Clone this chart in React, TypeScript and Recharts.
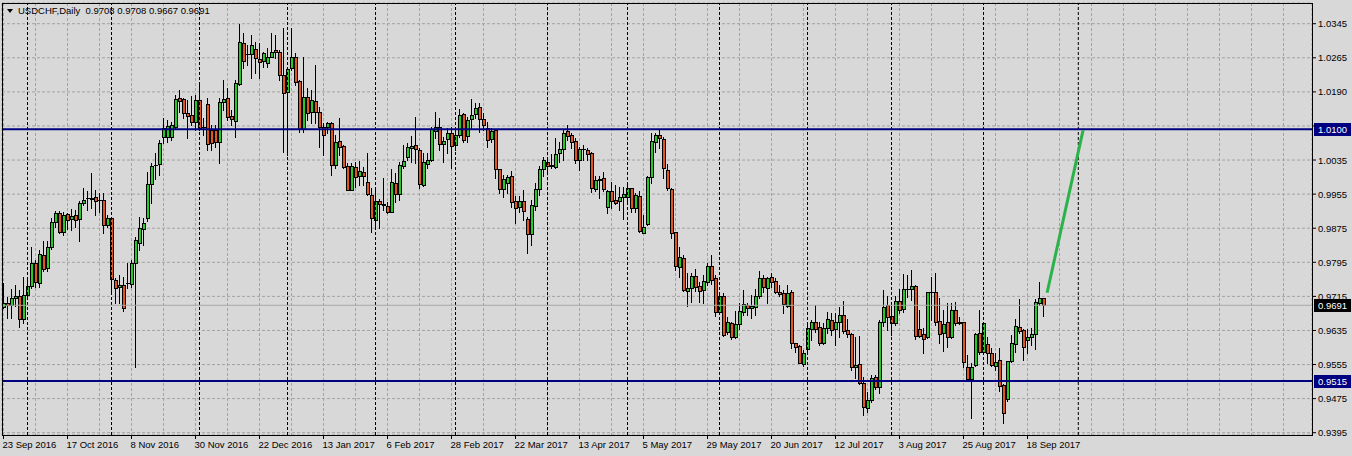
import { ComposedChart, Bar, XAxis, YAxis, CartesianGrid, ReferenceLine } from 'recharts';

// USDCHF daily, 23 Sep 2016 .. 22 Sep 2017 (bar index = trading day)
const opens = [
  0.9687, 0.9696, 0.9691, 0.9708, 0.9712, 0.9659, 0.9715, 0.9736, 0.9789, 0.9743,
  0.9808, 0.9777, 0.9826, 0.9884, 0.9905, 0.9861, 0.9903, 0.9891, 0.9901, 0.9891,
  0.9928, 0.994, 0.994, 0.9942, 0.9935, 0.9935, 0.9877, 0.9894, 0.975, 0.9733,
  0.9738, 0.9743, 0.974, 0.9789, 0.9835, 0.9868, 0.9894, 0.9973, 1.0017, 1.0019,
  1.0082, 1.0082, 1.0082, 1.0105, 1.0172, 1.017, 1.0137, 1.0133, 1.0117, 1.0168,
  1.0105, 1.0158, 1.0098, 1.0098, 1.007, 1.0163, 1.0172, 1.0131, 1.0119, 1.0205,
  1.03, 1.0275, 1.0275, 1.0286, 1.0263, 1.0258, 1.0254, 1.0268, 1.0284, 1.0279,
  1.0226, 1.0186, 1.0242, 1.0268, 1.0212, 1.01, 1.0175, 1.014, 1.0165, 1.014,
  1.0105, 1.0105, 1.0114, 1.0017, 1.0072, 1.0061, 1.0014, 0.9959, 1.0012, 0.9991,
  1.0, 0.9977, 0.9947, 0.9889, 0.9933, 0.9926, 0.9921, 0.9908, 0.9975, 0.9949,
  1.0014, 1.0035, 1.0056, 1.0063, 1.0052, 0.997, 1.0019, 1.0028, 1.0096, 1.0105,
  1.0065, 1.0077, 1.0091, 1.0063, 1.0086, 1.0135, 1.0084, 1.0124, 1.0135, 1.0151,
  1.0124, 1.0103, 1.0077, 1.0098, 1.0007, 0.9961, 0.9975, 0.9991, 0.9933, 0.9919,
  0.9933, 0.9891, 0.9856, 0.9921, 0.9961, 1.0007, 1.0024, 1.0017, 1.0012, 1.0045,
  1.0054, 1.0096, 1.0086, 1.0072, 1.0028, 1.0054, 1.0052, 1.0045, 0.9961, 0.9984,
  0.9986, 0.9919, 0.9956, 0.9935, 0.9933, 0.9942, 0.9942, 0.9963, 0.9917, 0.9945,
  0.9859, 0.988, 0.9989, 1.007, 1.0086, 1.0077, 1.0005, 0.9961, 0.9861, 0.978,
  0.9801, 0.9724, 0.9731, 0.9759, 0.9736, 0.9726, 0.9745, 0.9782, 0.9754, 0.9675,
  0.9712, 0.9629, 0.965, 0.9617, 0.9647, 0.9675, 0.9691, 0.9684, 0.9687, 0.9712,
  0.9754, 0.9731, 0.9756, 0.9747, 0.9722, 0.9719, 0.9689, 0.9722, 0.9603, 0.9596,
  0.9554, 0.9589, 0.9636, 0.9652, 0.964, 0.9603, 0.9638, 0.9657, 0.9636, 0.9652,
  0.9668, 0.9633, 0.9624, 0.9547, 0.9554, 0.951, 0.9452, 0.9471, 0.9524, 0.9501,
  0.9652, 0.9691, 0.9666, 0.965, 0.9701, 0.9682, 0.9729, 0.9729, 0.9736, 0.9636,
  0.9624, 0.9617, 0.9722, 0.9722, 0.9654, 0.9626, 0.9652, 0.9617, 0.968, 0.9652,
  0.9652, 0.9547, 0.952, 0.9552, 0.9626, 0.9582, 0.9601, 0.958, 0.955, 0.9564,
  0.9506, 0.9473, 0.9561, 0.9601, 0.964, 0.9633, 0.961, 0.9617, 0.9624, 0.9696,
  0.9708,
];

const highs = [
  0.9743, 0.971, 0.9729, 0.9738, 0.9726, 0.9756, 0.9756, 0.9826, 0.9796, 0.9819,
  0.984, 0.984, 0.9894, 0.991, 0.991, 0.9908, 0.9905, 0.9914, 0.9912, 0.9933,
  0.9963, 0.9956, 0.9998, 0.9959, 0.9952, 0.9952, 0.9901, 0.9896, 0.9754, 0.9761,
  0.9756, 0.9789, 0.9796, 0.9849, 0.9896, 0.9894, 1.0, 1.0021, 1.0045, 1.0075,
  1.0126, 1.0121, 1.0117, 1.0179, 1.0191, 1.0172, 1.0168, 1.0177, 1.0179, 1.0203,
  1.0126, 1.0172, 1.011, 1.011, 1.0172, 1.0214, 1.0196, 1.0144, 1.0214, 1.0344,
  1.0323, 1.0296, 1.0319, 1.0302, 1.03, 1.0279, 1.0289, 1.0323, 1.0319, 1.0284,
  1.0335, 1.0242, 1.0335, 1.0277, 1.0214, 1.0268, 1.0196, 1.0191, 1.0249, 1.0151,
  1.0114, 1.0117, 1.0117, 1.0086, 1.0126, 1.0063, 1.0021, 1.0021, 1.0024, 1.0026,
  1.0012, 1.0045, 0.9963, 0.9963, 0.9938, 0.9986, 0.9931, 1.0007, 0.9998, 1.0024,
  1.0063, 1.0068, 1.0084, 1.0128, 1.0056, 1.0045, 1.0045, 1.0105, 1.014, 1.0126,
  1.0082, 1.0103, 1.0105, 1.0098, 1.0147, 1.0137, 1.0128, 1.017, 1.0161, 1.0161,
  1.0137, 1.0117, 1.0103, 1.0099, 1.0008, 0.9993, 0.9993, 1.0003, 0.9945, 0.9945,
  0.9959, 0.9896, 0.9935, 0.9975, 1.0014, 1.0035, 1.0035, 1.0042, 1.0079, 1.007,
  1.0098, 1.011, 1.0091, 1.0079, 1.0058, 1.0063, 1.0056, 1.0046, 0.9991, 0.9991,
  1.0, 0.9959, 0.9977, 0.997, 0.9966, 0.9966, 0.997, 0.9964, 0.9952, 0.9956,
  0.9901, 0.9991, 1.0091, 1.0091, 1.01, 1.0082, 1.0019, 0.9963, 0.9862, 0.9826,
  0.9808, 0.9766, 0.9766, 0.9775, 0.9745, 0.9761, 0.9789, 0.9808, 0.9761, 0.9719,
  0.9719, 0.9664, 0.9652, 0.9678, 0.9696, 0.9726, 0.9696, 0.9715, 0.9729, 0.977,
  0.9761, 0.9756, 0.9766, 0.9754, 0.9738, 0.9726, 0.9738, 0.9726, 0.9604, 0.9599,
  0.9587, 0.9645, 0.9657, 0.9691, 0.9652, 0.965, 0.9675, 0.9673, 0.9673, 0.9687,
  0.9701, 0.9659, 0.9626, 0.9617, 0.9619, 0.9524, 0.9489, 0.9529, 0.9529, 0.9657,
  0.9726, 0.9712, 0.9689, 0.9712, 0.9729, 0.9763, 0.9761, 0.9773, 0.9738, 0.968,
  0.9638, 0.9723, 0.9756, 0.9766, 0.9708, 0.968, 0.9696, 0.9696, 0.9698, 0.9664,
  0.9653, 0.9575, 0.9557, 0.9626, 0.968, 0.965, 0.9617, 0.9592, 0.958, 0.9592,
  0.9507, 0.9562, 0.9622, 0.9659, 0.9705, 0.9636, 0.9636, 0.9638, 0.9705, 0.9745,
  0.9708,
];

const lows = [
  0.9684, 0.9661, 0.9661, 0.9689, 0.964, 0.965, 0.9708, 0.9731, 0.9733, 0.9733,
  0.977, 0.977, 0.9822, 0.9873, 0.9859, 0.9854, 0.9868, 0.9866, 0.9873, 0.984,
  0.9924, 0.9912, 0.9917, 0.9901, 0.9908, 0.9859, 0.9873, 0.9719, 0.9696, 0.9696,
  0.9678, 0.9731, 0.9733, 0.9547, 0.9819, 0.9831, 0.9887, 0.9928, 0.9984, 0.9993,
  1.0068, 1.007, 1.0075, 1.0103, 1.014, 1.0126, 1.0079, 1.011, 1.0098, 1.0098,
  1.0086, 1.0052, 1.0052, 1.0058, 1.0021, 1.0144, 1.0121, 1.011, 1.0082, 1.0203,
  1.0242, 1.0249, 1.0219, 1.023, 1.0219, 1.0244, 1.0244, 1.0267, 1.0265, 1.0214,
  1.0047, 1.004, 1.0237, 1.0203, 1.0093, 1.0093, 1.0121, 1.0114, 1.0114, 1.0058,
  1.004, 1.0091, 0.9993, 1.001, 1.004, 1.001, 0.9958, 0.9958, 0.9966, 0.997,
  0.997, 0.9947, 0.9861, 0.987, 0.987, 0.9912, 0.9905, 0.9907, 0.9931, 0.9935,
  1.001, 1.0028, 1.0024, 1.0021, 0.9963, 0.9968, 1.001, 1.0027, 1.0079, 1.0052,
  1.0024, 1.0045, 1.001, 1.0052, 1.0082, 1.007, 1.007, 1.0103, 1.0126, 1.0093,
  1.0098, 1.0058, 1.007, 0.9986, 0.9952, 0.9942, 0.9952, 0.9919, 0.9882, 0.9908,
  0.9889, 0.9812, 0.9831, 0.9912, 0.9947, 0.9991, 0.9998, 1.001, 1.001, 1.0024,
  1.0028, 1.0075, 1.0056, 1.0021, 1.0005, 1.0028, 1.0028, 0.9954, 0.9956, 0.994,
  0.9956, 0.9905, 0.9917, 0.9927, 0.9912, 0.9891, 0.9928, 0.9908, 0.9908, 0.9861,
  0.9858, 0.9877, 0.9975, 1.0047, 1.0056, 0.9986, 0.9959, 0.9847, 0.9773, 0.9756,
  0.9724, 0.9689, 0.9698, 0.9724, 0.9698, 0.9696, 0.9738, 0.974, 0.9666, 0.9673,
  0.9619, 0.9624, 0.9612, 0.9616, 0.9636, 0.9668, 0.9668, 0.9661, 0.9668, 0.9708,
  0.9722, 0.9696, 0.9733, 0.9719, 0.9712, 0.9673, 0.9687, 0.9592, 0.9582, 0.9556,
  0.955, 0.9582, 0.961, 0.9629, 0.9599, 0.9602, 0.9626, 0.9622, 0.9599, 0.9617,
  0.9626, 0.9617, 0.954, 0.9522, 0.9508, 0.9436, 0.9443, 0.9466, 0.9496, 0.9487,
  0.9643, 0.9633, 0.9622, 0.9645, 0.9673, 0.9675, 0.971, 0.9703, 0.9612, 0.9617,
  0.958, 0.9616, 0.9657, 0.9645, 0.9603, 0.9584, 0.9594, 0.9615, 0.9645, 0.9647,
  0.9547, 0.9517, 0.9429, 0.955, 0.9578, 0.958, 0.9557, 0.955, 0.954, 0.9492,
  0.9417, 0.9468, 0.9559, 0.9582, 0.9626, 0.9564, 0.958, 0.9599, 0.9589, 0.9691,
  0.9667,
];

const closes = [
  0.9696, 0.9691, 0.9708, 0.9712, 0.9659, 0.9715, 0.9736, 0.9789, 0.9745, 0.981,
  0.9775, 0.9826, 0.9884, 0.9905, 0.9861, 0.9901, 0.9889, 0.9898, 0.9889, 0.9928,
  0.9935, 0.9941, 0.9939, 0.9933, 0.9936, 0.9877, 0.9894, 0.9752, 0.9731, 0.9738,
  0.9684, 0.9742, 0.9789, 0.9842, 0.987, 0.9882, 0.9973, 1.0014, 1.0016, 1.0068,
  1.0103, 1.0107, 1.011, 1.017, 1.0165, 1.0137, 1.0131, 1.0117, 1.0168, 1.0103,
  1.0104, 1.0065, 1.0068, 1.007, 1.0163, 1.017, 1.0128, 1.0124, 1.0207, 1.0302,
  1.0258, 1.0274, 1.0296, 1.0265, 1.0256, 1.0277, 1.0268, 1.0279, 1.0279, 1.0226,
  1.0184, 1.024, 1.0268, 1.021, 1.01, 1.0175, 1.0137, 1.0168, 1.014, 1.0105,
  1.0086, 1.0114, 1.0017, 1.007, 1.0058, 1.0012, 0.9959, 1.0014, 0.9989, 1.0003,
  0.9991, 0.9949, 0.9894, 0.9933, 0.9926, 0.9925, 0.9908, 0.9977, 0.9949, 1.0017,
  1.0026, 1.0058, 1.0061, 1.0054, 0.9973, 1.0024, 1.0028, 1.01, 1.0105, 1.0065,
  1.0072, 1.0091, 1.0061, 1.0086, 1.0133, 1.0075, 1.0121, 1.0133, 1.0149, 1.0124,
  1.011, 1.0075, 1.0096, 1.0007, 0.9961, 0.9984, 0.9989, 0.9931, 0.9917, 0.9933,
  0.991, 0.9856, 0.9924, 0.9961, 1.0007, 1.0028, 1.0014, 1.0014, 1.0042, 1.0054,
  1.0091, 1.0084, 1.007, 1.0028, 1.0054, 1.0053, 1.0042, 0.9963, 0.9982, 0.9982,
  0.9961, 0.9956, 0.9933, 0.9928, 0.9942, 0.9949, 0.9963, 0.9917, 0.9947, 0.9863,
  0.9873, 0.9989, 1.0072, 1.0086, 1.0079, 1.001, 0.9963, 0.9859, 0.9782, 0.9803,
  0.9726, 0.9731, 0.9759, 0.9733, 0.9724, 0.9747, 0.9782, 0.975, 0.9675, 0.9712,
  0.9622, 0.9652, 0.9617, 0.9647, 0.9678, 0.9694, 0.9684, 0.9689, 0.9712, 0.9754,
  0.9733, 0.9754, 0.9745, 0.9722, 0.9717, 0.9694, 0.9719, 0.9603, 0.9594, 0.9557,
  0.958, 0.9638, 0.9652, 0.9636, 0.9603, 0.9638, 0.9659, 0.9633, 0.9652, 0.9668,
  0.9631, 0.9624, 0.9547, 0.9552, 0.951, 0.9454, 0.9471, 0.9522, 0.9501, 0.9652,
  0.9687, 0.9664, 0.965, 0.9701, 0.968, 0.9729, 0.9728, 0.9736, 0.9619, 0.9619,
  0.9612, 0.9722, 0.9721, 0.9652, 0.9624, 0.9647, 0.9617, 0.968, 0.965, 0.9651,
  0.9559, 0.952, 0.9547, 0.9624, 0.9582, 0.9649, 0.958, 0.9552, 0.9559, 0.9503,
  0.944, 0.9561, 0.9603, 0.9643, 0.9631, 0.9594, 0.9617, 0.9624, 0.9698, 0.9708,
  0.9691,
];

// one label every 16 bars, starting at bar 0
const dateLabels = [
  '23 Sep 2016', '17 Oct 2016', '8 Nov 2016', '30 Nov 2016', '22 Dec 2016', '13 Jan 2017',
  '6 Feb 2017', '28 Feb 2017', '22 Mar 2017', '13 Apr 2017', '5 May 2017', '29 May 2017',
  '20 Jun 2017', '12 Jul 2017', '3 Aug 2017', '25 Aug 2017', '18 Sep 2017',
];
// first bar of each month (period separators); last one is in the empty shift area
const monthStarts = [6, 27, 49, 71, 93, 113, 136, 156, 179, 201, 222, 245, 268.7];

const yTickLabels = [
  '1.0345', '1.0265', '1.0190', '1.0110', '1.0035', '0.9955', '0.9875',
  '0.9795', '0.9715', '0.9635', '0.9555', '0.9475', '0.9395',
];
const levels = [1.01, 0.9515];
const bidPrice = 0.9691;
const trendLine = [
  { x: 260.9, y: 0.972 },
  { x: 269.9, y: 1.0098 },
];

const FONT = "'Liberation Sans', Arial, sans-serif";
const BG = '#d8d8d8';
const GRID = '#a3a3a3';
const NAVY = '#000080';
const BULL = '#22cc22';
const BEAR = '#e2561d';

const Y_TOP = 1.0345;
const Y_BOT = 0.9395;
const Y_STEP = (Y_TOP - Y_BOT) / (yTickLabels.length - 1);
const yTicks = yTickLabels.map((_, k) => Y_TOP - k * Y_STEP);
const xTicks = Array.from({ length: 41 }, (_, k) => k * 8);

const data = opens.map((o, i) => ({
  i,
  open: o,
  high: highs[i],
  low: lows[i],
  close: closes[i],
  range: [lows[i], highs[i]],
}));

const last = data[data.length - 1];
const fmt = (v: number) => v.toFixed(4);

function Candle(props: any) {
  const { x, y, width, height, payload } = props;
  if (!payload || height == null) return null;
  const { open, high, low, close } = payload;
  const cx = Math.floor(x + width / 2) + 0.5;
  const k = height / (high - low);
  const py = (v: number) => y + (high - v) * k;
  const top = Math.round(py(Math.max(open, close)));
  const bot = Math.round(py(Math.min(open, close)));
  const hi = Math.round(py(high));
  const lo = Math.round(py(low));
  const bull = close >= open;
  return (
    <g>
      <line x1={cx} x2={cx} y1={hi} y2={lo + 1} stroke="#000" strokeWidth={1} />
      {bot - top < 1 ? (
        <line x1={cx - 1.5} x2={cx + 2.5} y1={top + 0.5} y2={top + 0.5} stroke="#000" />
      ) : (
        <rect
          x={cx - 1}
          y={top + 0.5}
          width={3}
          height={bot - top}
          fill={bull ? BULL : BEAR}
          stroke="#000"
          strokeWidth={1}
        />
      )}
    </g>
  );
}

function XTick(props: any) {
  const { x, y, payload } = props;
  const v = payload.value;
  if (v % 16 !== 0 || v / 16 >= dateLabels.length) return null;
  const px = Math.floor(x) + 0.5;
  return (
    <g>
      <line x1={px} x2={px} y1={y} y2={y + 4} stroke="#000" />
      <text x={px - 1} y={y + 13} fontSize={9.5} fontFamily={FONT} fill="#000" textAnchor="start">
        {dateLabels[v / 16]}
      </text>
    </g>
  );
}

function YTick(props: any) {
  const { x, y, payload } = props;
  const k = Math.round((Y_TOP - payload.value) / Y_STEP);
  // a level tag sits on top of this scale label, as in the terminal
  const covered = levels.some((lv) => Math.abs(lv - payload.value) < Y_STEP * 0.2);
  return (
    <g>
      <line x1={x} x2={x + 4} y1={y} y2={y} stroke="#000" />
      {!covered && (
        <text x={x + 6} y={y + 3.5} fontSize={9.5} fontFamily={FONT} fill="#000" textAnchor="start">
          {yTickLabels[k]}
        </text>
      )}
    </g>
  );
}

function PriceTag({ viewBox, value, bg }: any) {
  if (!viewBox) return null;
  const x = viewBox.x + viewBox.width + 2;
  const y = Math.round(viewBox.y);
  return (
    <g>
      <rect x={x} y={y - 6} width={37} height={13} fill={bg} />
      <text x={x + 4} y={y + 4} fontSize={9.5} fontFamily={FONT} fill="#fff" textAnchor="start">
        {fmt(value)}
      </text>
    </g>
  );
}

export default function App() {
  return (
    <div
      style={{
        position: 'absolute',
        left: 0,
        top: 0,
        width: 1352,
        height: 456,
        background: BG,
        fontFamily: FONT,
        overflow: 'hidden',
      }}
    >
      <ComposedChart
        width={1352}
        height={456}
        data={data}
        margin={{ top: 3, right: 0, bottom: 0, left: 2 }}
      >
        <CartesianGrid stroke={GRID} strokeDasharray="3 2" />
        <XAxis
          dataKey="i"
          type="number"
          domain={[-0.375, 327.125]}
          allowDataOverflow
          ticks={xTicks}
          interval={0}
          height={21}
          tickSize={0}
          tickMargin={0}
          axisLine={false}
          tick={<XTick />}
        />
        <YAxis
          orientation="right"
          type="number"
          domain={[0.93897, 1.03931]}
          allowDataOverflow
          ticks={yTicks}
          interval={0}
          width={40}
          tickSize={0}
          tickMargin={0}
          axisLine={false}
          tick={<YTick />}
        />
        {monthStarts.map((m) => (
          <ReferenceLine key={m} x={m} stroke="#000" strokeDasharray="3 2" />
        ))}
        <ReferenceLine y={bidPrice} stroke="#a8a8a8" strokeWidth={1} />
        <Bar
          dataKey="range"
          barSize={3}
          isAnimationActive={false}
          shape={(p: any) => <Candle {...p} />}
        />
        {levels.map((lv) => (
          <ReferenceLine
            key={lv}
            y={lv}
            stroke={NAVY}
            strokeWidth={2}
            label={<PriceTag value={lv} bg={NAVY} />}
          />
        ))}
        <ReferenceLine y={bidPrice} stroke="none" label={<PriceTag value={bidPrice} bg="#000" />} />
        <ReferenceLine
          segment={trendLine}
          stroke="#2bb24a"
          strokeWidth={3}
        />
      </ComposedChart>

      <div
        style={{
          position: 'absolute',
          left: 2,
          top: 3,
          width: 1311,
          height: 433,
          border: '1px solid #000',
          boxSizing: 'border-box',
          pointerEvents: 'none',
        }}
      />
      <div
        style={{
          position: 'absolute',
          left: 7,
          top: 9,
          width: 0,
          height: 0,
          borderLeft: '3.5px solid transparent',
          borderRight: '3.5px solid transparent',
          borderTop: '4px solid #000',
        }}
      />
      <div
        style={{
          position: 'absolute',
          left: 18,
          top: 5,
          fontSize: 9.5,
          lineHeight: '11px',
          color: '#000',
          whiteSpace: 'pre',
        }}
      >
        {`USDCHF,Daily  ${fmt(last.open)} ${fmt(last.high)} ${fmt(last.low)} ${fmt(last.close)}`}
      </div>
    </div>
  );
}
